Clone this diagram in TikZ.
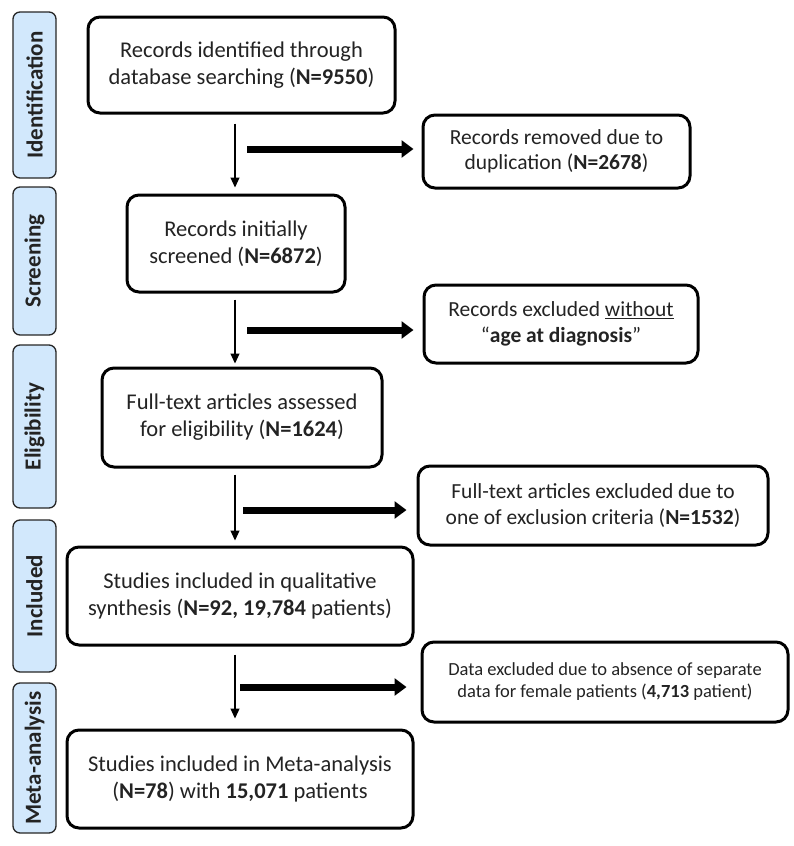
\documentclass[tikz,border=0pt]{standalone}
\usepackage{fontspec}
\setmainfont{Carlito}
\usetikzlibrary{arrows.meta}
\definecolor{lblfill}{RGB}{210,232,252}
\definecolor{txt}{RGB}{35,35,35}
\tikzset{
  mainbox/.style={draw=black, line width=3pt, rounded corners=12pt, fill=white,
    align=center, inner sep=0pt, text=txt, font=\fontsize{22.5}{27}\selectfont},
  sidebox/.style={mainbox, font=\fontsize{21.5}{25.5}\selectfont},
  smallbox/.style={mainbox, font=\fontsize{18.5}{22}\selectfont},
  stagebox/.style={draw=black!85, line width=1.3pt, rounded corners=7pt, fill=lblfill,
    rotate=90, inner sep=0pt, minimum height=43pt, text=txt,
    font=\bfseries\fontsize{23}{27}\selectfont},
  thinarr/.style={line width=1.2pt, -{Triangle[length=10pt,width=9pt]}},
  thickarr/.style={line width=7pt, -{Triangle[length=12pt,width=17pt]}}
}
\begin{document}
\begin{tikzpicture}[x=1pt,y=-1pt]
\useasboundingbox (0,0) rectangle (794,846);

% stage labels
\node[stagebox, minimum width=166pt] (s1) at (34.5,95) {Identification};
\node[stagebox, minimum width=148pt] (s2) at (34.5,261) {Screening};
\node[stagebox, minimum width=163pt] (s3) at (34.5,426.5) {Eligibility};
\node[stagebox, minimum width=152pt] (s4) at (34.5,596) {Included};
\node[stagebox, minimum width=150pt] (s5) at (34.5,758) {Meta-analysis};

% main column
\node[mainbox, minimum width=307pt, minimum height=96pt] (b1) at (241.5,65)
  {Records identified through\\database searching (\textbf{N=9550})};
\node[mainbox, minimum width=218pt, minimum height=97pt] (b2) at (236,243.5)
  {Records initially\\screened (\textbf{N=6872})};
\node[mainbox, minimum width=280pt, minimum height=99pt] (b3) at (242,417.5)
  {Full-text articles assessed\\for eligibility (\textbf{N=1624})};
\node[mainbox, minimum width=346pt, minimum height=98pt] (b4) at (240,596)
  {Studies included in qualitative\\synthesis (\textbf{N=92, 19,784} patients)};
\node[mainbox, minimum width=346pt, minimum height=98pt] (b5) at (240,779)
  {Studies included in Meta-analysis\\(\textbf{N=78}) with \textbf{15,071} patients};

% side boxes
\node[sidebox, minimum width=267pt, minimum height=73pt] (ra) at (556.5,151.5)
  {Records removed due to\\duplication (\textbf{N=2678})};
\node[sidebox, minimum width=274pt, minimum height=78pt] (rb) at (561,324)
  {Records excluded \underline{without}\\“\textbf{age at diagnosis}”};
\node[sidebox, minimum width=350pt, minimum height=79pt] (rc) at (593,505.5)
  {Full-text articles excluded due to\\one of exclusion criteria (\textbf{N=1532})};
\node[smallbox, minimum width=366pt, minimum height=80pt] (rd) at (605,682)
  {Data excluded due to absence of separate\\data for female patients (\textbf{4,713} patient)};

% thin vertical arrows
\coordinate (ax) at (235,0);
\draw[thinarr, shorten <=9pt, shorten >=6pt] (b1.south -| ax) -- (b2.north -| ax);
\draw[thinarr, shorten <=6pt, shorten >=3pt] (b2.south -| ax) -- (b3.north -| ax);
\draw[thinarr, shorten <=6pt, shorten >=5pt] (b3.south -| ax) -- (b4.north -| ax);
\draw[thinarr, shorten <=8pt, shorten >=10pt] (b4.south -| ax) -- (b5.north -| ax);

% thick horizontal arrows
\coordinate (t1) at (247,149);
\coordinate (t2) at (247,330);
\coordinate (t3) at (243,510);
\coordinate (t4) at (240,687);
\draw[thickarr, shorten >=8pt] (t1) -- (t1 -| ra.west);
\draw[thickarr, shorten >=9pt] (t2) -- (t2 -| rb.west);
\draw[thickarr, shorten >=10pt] (t3) -- (t3 -| rc.west);
\draw[thickarr, shorten >=14pt] (t4) -- (t4 -| rd.west);
\end{tikzpicture}
\end{document}
